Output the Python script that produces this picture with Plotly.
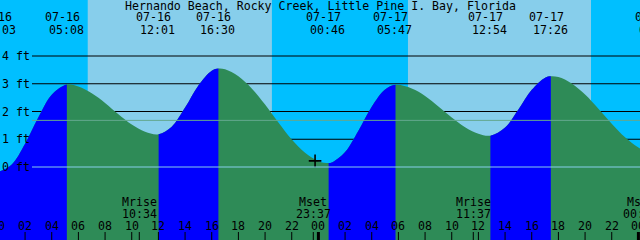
import plotly.graph_objects as go

# ---------------- data ----------------
title_text = "Hernando Beach, Rocky Creek, Little Pine I. Bay, Florida"

tide_dates = ["07-16", "07-16", "07-16", "07-16", "07-17", "07-17", "07-17", "07-17", "07-18"]
tide_clock = ["00:03", "05:08", "12:01", "16:30", "00:46", "05:47", "12:54", "17:26", "01:24"]
tide_heights = [-0.17, 2.97, 1.18, 3.55, 0.14, 2.96, 1.13, 3.27, 0.50]

# hourly height readings (hours after 07-16 00:00, feet)
reading_hours = [1, 2, 3, 4, 6, 7, 8, 9, 10, 11, 13, 14, 15, 16, 17, 18, 19, 20, 21, 22, 23, 24,
                 25, 26, 27, 28, 29, 31, 32, 33, 34, 35, 36, 38, 39, 40, 41, 42, 43, 44, 45, 46,
                 47, 48, 49]
reading_heights = [0.09, 0.84, 1.79, 2.60, 2.90, 2.66, 2.31, 1.90, 1.53, 1.27, 1.45, 2.14, 2.94,
                   3.47, 3.52, 3.27, 2.83, 2.25, 1.60, 0.99, 0.51, 0.21, 0.16, 0.54, 1.31, 2.17,
                   2.79, 2.83, 2.56, 2.18, 1.78, 1.43, 1.20, 1.42, 2.07, 2.78, 3.22, 3.24, 3.01,
                   2.61, 2.10, 1.56, 1.07, 0.70, 0.52]

sun_dates = ["07-16", "07-16", "07-17", "07-17"]
sun_clock = ["06:42", "20:31", "06:43", "20:27"]
sun_kind = ["rise", "set", "rise", "set"]

moon_dates = ["07-16", "07-16", "07-17", "07-18"]
moon_clock = ["10:34", "23:37", "11:37", "00:10"]
moon_labels = ["Mrise", "Mset", "Mrise", "Mset"]

depth_levels = [0, 1, 2, 3, 4]
depth_labels = ["0 ft", "1 ft", "2 ft", "3 ft", "4 ft"]
mean_level = 1.68

hour_ticks = list(range(0, 49, 2))
hour_tick_labels = ["%02d" % (h % 24) for h in hour_ticks]
midnights = [0, 24, 48]

mark_date, mark_clock, mark_height = "07-16", "23:45", 0.22

# ---------------- helpers ----------------
def to_hours(d, c):
    day = int(d.split("-")[1]) - 16
    hh, mm = c.split(":")
    return day * 24 + int(hh) + int(mm) / 60.0

X0, X1 = 0.12, 48.12
Y0, Y1 = -73 / 27.75, 167 / 27.75
W, H = 640, 240
FONT = dict(family="DejaVu Sans Mono", size=11.6, color="black")

def px(t):
    return (t - X0) / (X1 - X0)

def py(ypix):
    return 1 - ypix / H

tide_t = [to_hours(d, c) for d, c in zip(tide_dates, tide_clock)]
sun_t = [to_hours(d, c) for d, c in zip(sun_dates, sun_clock)]
moon_t = [to_hours(d, c) for d, c in zip(moon_dates, moon_clock)]
mark_t = to_hours(mark_date, mark_clock)

pts = sorted(list(zip(tide_t, tide_heights)) + list(zip(reading_hours, reading_heights)))
all_x = [p[0] for p in pts]
all_y = [p[1] for p in pts]

fig = go.Figure()
BASE = Y0 - 0.5

def water(color, xaxis):
    fig.add_trace(go.Scatter(x=[all_x[0], all_x[-1]], y=[BASE, BASE], mode="lines",
                             xaxis=xaxis, yaxis="y", line=dict(width=0),
                             hoverinfo="skip", showlegend=False))
    fig.add_trace(go.Scatter(x=all_x, y=all_y, mode="lines", fill="tonexty", fillcolor=color,
                             xaxis=xaxis, yaxis="y",
                             line=dict(width=0, shape="spline", color=color),
                             hoverinfo="skip", showlegend=False))

# full water (green = ebbing)
water("#2E8B57", "x")

# current-time mark
fig.add_trace(go.Scatter(x=[mark_t], y=[mark_height], mode="markers",
                         marker=dict(symbol="cross-thin", size=9, line=dict(width=1.6, color="black")),
                         hoverinfo="skip", showlegend=False))

# rising segments (blue = flooding): same curve, clipped to their own x-window
extra_axes = {}
k = 2
for i in range(len(tide_t) - 1):
    if tide_heights[i + 1] > tide_heights[i]:
        a, b = max(tide_t[i], X0), min(tide_t[i + 1], X1)
        if b <= a:
            continue
        name = "x%d" % k
        extra_axes["xaxis%d" % k] = dict(domain=[px(a), px(b)], range=[a, b], anchor="y",
                                         visible=False, fixedrange=True)
        water("#0000FF", name)
        k += 1

shapes = []
# sky: night / day
bounds = [X0 - 2] + sun_t + [X1 + 2]
kinds = ["night"] + ["day" if kd == "rise" else "night" for kd in sun_kind]
for i in range(len(bounds) - 1):
    shapes.append(dict(type="rect", xref="x", yref="paper", x0=bounds[i], x1=bounds[i + 1],
                       y0=0, y1=1, layer="below", line=dict(width=0),
                       fillcolor="#87CEEB" if kinds[i] == "day" else "#00BFFF"))
# depth lines (behind water)
for lv in depth_levels[1:]:
    shapes.append(dict(type="line", xref="paper", yref="y", x0=32 / W, x1=1, y0=lv, y1=lv,
                       layer="below", line=dict(color="black", width=1)))
# 0 ft and mean level lines on top
shapes.append(dict(type="line", xref="paper", yref="y", x0=32 / W, x1=1, y0=0, y1=0,
                   layer="above", line=dict(color="#87CEEB", width=1)))
shapes.append(dict(type="line", xref="paper", yref="y", x0=32 / W, x1=1, y0=mean_level,
                   y1=mean_level, layer="above", line=dict(color="#63A88F", width=1)))
# hour ticks, midnight thick ticks and moon event ticks
for h in hour_ticks:
    shapes.append(dict(type="line", xref="x", yref="paper", x0=h, x1=h, y0=0, y1=8 / H,
                       layer="above", line=dict(color="black", width=1)))
for m in midnights:
    shapes.append(dict(type="line", xref="x", yref="paper", x0=m, x1=m, y0=0, y1=8 / H,
                       layer="above", line=dict(color="black", width=3)))
for m in moon_t:
    shapes.append(dict(type="line", xref="x", yref="paper", x0=m, x1=m, y0=0, y1=8 / H,
                       layer="above", line=dict(color="black", width=1)))

ann = []
def text(x, ypix, s, xanchor="center", xshift=0):
    ann.append(dict(x=x, y=py(ypix), xref="paper", yref="paper", text=s, showarrow=False,
                    xanchor=xanchor, yanchor="middle", xshift=xshift, font=FONT,
                    borderpad=0))

text(0.5, 5.5, title_text)
for t, d, c in zip(tide_t, tide_dates, tide_clock):
    text(px(t), 17.5, d, xshift=-4.8)
    text(px(t), 29.5, c, xshift=-0.7)
for lv, lab in zip(depth_levels, depth_labels):
    ypix = 167 - lv * 27.75
    text(1 / W, ypix, lab, xanchor="left")
for t, lab, c in zip(moon_t, moon_labels, moon_clock):
    text(px(t), 201.5, lab)
    text(px(t), 213.5, c)
for h, lab in zip(hour_ticks, hour_tick_labels):
    text(px(h), 226, lab)

fig.update_layout(
    width=W, height=H, margin=dict(l=0, r=0, t=0, b=0),
    paper_bgcolor="#00BFFF", plot_bgcolor="rgba(0,0,0,0)",
    shapes=shapes, annotations=ann, showlegend=False,
    xaxis=dict(range=[X0, X1], domain=[0, 1], showgrid=False, zeroline=False, showline=False,
               ticks="", showticklabels=False, fixedrange=True),
    yaxis=dict(range=[Y0, Y1], visible=False, showgrid=False, zeroline=False, fixedrange=True),
    **extra_axes,
)

fig.write_html("out.html")
